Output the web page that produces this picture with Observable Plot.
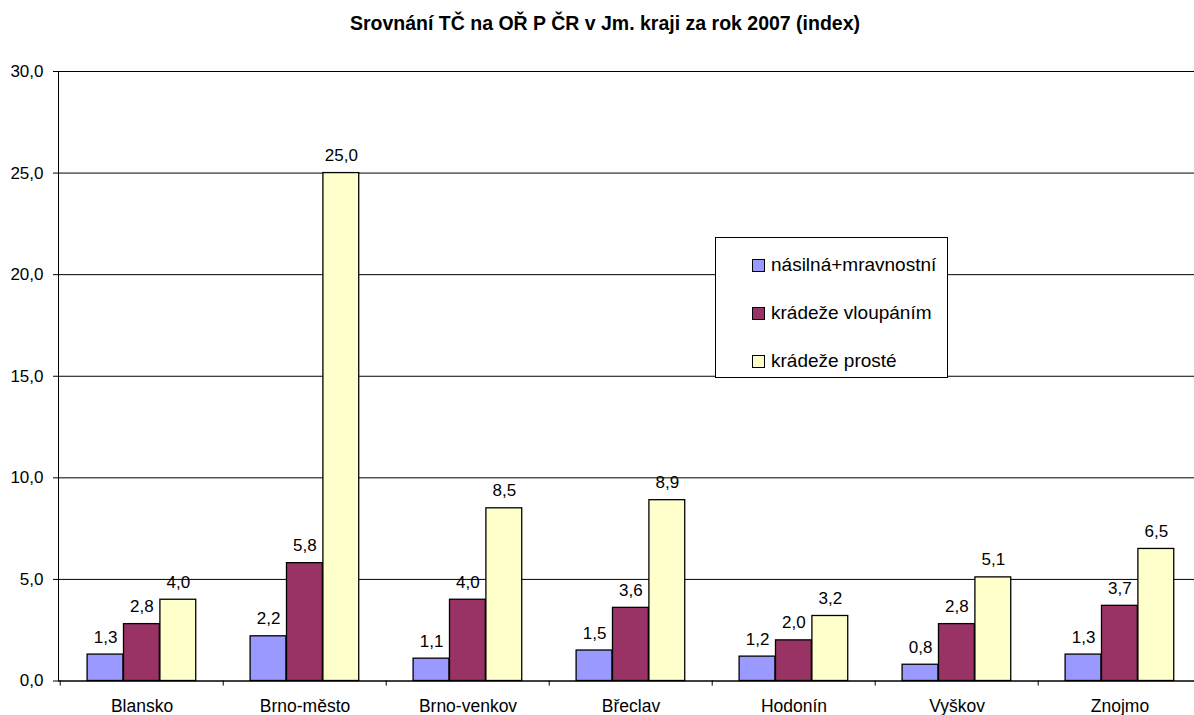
<!DOCTYPE html>
<html>
<head>
<meta charset="utf-8">
<script src="https://cdn.jsdelivr.net/npm/d3@7"></script>
<script src="https://cdn.jsdelivr.net/npm/@observablehq/plot@0.6"></script>
<style>
  html, body { margin: 0; padding: 0; overflow: hidden; background: #fff; width: 1194px; height: 715px; }
  #wrap { position: relative; width: 1194px; height: 715px; overflow: hidden; font-family: "Liberation Sans", Arial, sans-serif; }
  #title { position: absolute; top: 12px; left: 0; width: 1210px; text-align: center; font-weight: bold; font-size: 19.5px; color: #000; white-space: nowrap; }
  #chart { position: absolute; top: 0; left: 0; width: 1203px; }
  #chart svg { max-width: none !important; }
  #legend { position: absolute; left: 715px; top: 237px; width: 233px; height: 141px; border: 1px solid #000; background: #fff; box-sizing: border-box; }
  .item { position: absolute; left: 36px; display: flex; align-items: center; font-size: 19px; white-space: nowrap; color: #000; }
  .sw { width: 11px; height: 11px; border: 1px solid #000; margin-right: 6px; }
</style>
</head>
<body>
<div id="wrap">
  <div id="chart"></div>
  <div id="title">Srovnání TČ na OŘ P ČR v Jm. kraji za rok 2007 (index)</div>
  <div id="legend"></div>
</div>
<script>
const categories = ["Blansko", "Brno-město", "Brno-venkov", "Břeclav", "Hodonín", "Vyškov", "Znojmo"];
const seriesNames = ["násilná+mravnostní", "krádeže vloupáním", "krádeže prosté"];
const seriesColors = ["#9999FF", "#993366", "#FFFFCC"];
const violent = [1.3, 2.2, 1.1, 1.5, 1.2, 0.8, 1.3];
const burglary = [2.8, 5.8, 4.0, 3.6, 2.0, 2.8, 3.7];
const theft = [4.0, 25.0, 8.5, 8.9, 3.2, 5.1, 6.5];
const yTicks = [0, 5, 10, 15, 20, 25, 30];

const seriesValues = [violent, burglary, theft];
const fmt = d => d.toFixed(1).replace(".", ",");

const W = 1203, H = 715, mL = 58, mR = 0, mT = 71, mB = 34.5;
const bw = (W - mL - mR) / categories.length;   // band width
const barW = 36.4, groupOff = 27.1;

const marks = [Plot.gridY(yTicks, {stroke: "#000", strokeOpacity: 1})];
seriesValues.forEach((vals, i) => {
  const rows = categories.map((c, j) => ({cat: c, value: vals[j]}));
  const insetLeft = groupOff + i * barW;
  const insetRight = bw - groupOff - (i + 1) * barW;
  marks.push(Plot.barY(rows, {x: "cat", y: "value", fill: seriesColors[i], stroke: "#000", strokeWidth: 1.3, insetLeft, insetRight}));
  const dx = groupOff + (i + 0.5) * barW - bw / 2;
  marks.push(Plot.text(rows, {x: "cat", y: "value", text: d => fmt(d.value), dx, dy: -12, lineAnchor: "bottom", fontSize: 17, fill: "#000"}));
});
marks.push(
  Plot.frame({stroke: "#000"}),
  Plot.ruleX(categories, {x: d => d, y1: 0, y2: -0.25, dx: -bw / 2, stroke: "#000"}),
  Plot.axisY(yTicks, {tickSize: 5, tickPadding: 10, tickFormat: fmt, fontSize: 17, stroke: "#000", label: null}),
  Plot.axisX({tickSize: 0, tickPadding: 19, fontSize: 17.5, label: null})
);

const chart = Plot.plot({
  width: W, height: H,
  marginLeft: mL, marginRight: mR, marginTop: mT, marginBottom: mB,
  x: {domain: categories, padding: 0, axis: null},
  y: {domain: [0, 30], axis: null},
  style: {fontFamily: "Liberation Sans, Arial, sans-serif", fontSize: "17px", color: "#000", background: "transparent", maxWidth: "none"},
  marks
});
document.getElementById("chart").appendChild(chart);

const legend = document.getElementById("legend");
const rowsTop = [16, 64, 112];
seriesNames.forEach((n, i) => {
  const it = document.createElement("div");
  it.className = "item";
  it.style.top = rowsTop[i] + "px";
  it.innerHTML = `<span class="sw" style="background:${seriesColors[i]}"></span><span>${n}</span>`;
  legend.appendChild(it);
});
</script>
</body>
</html>
